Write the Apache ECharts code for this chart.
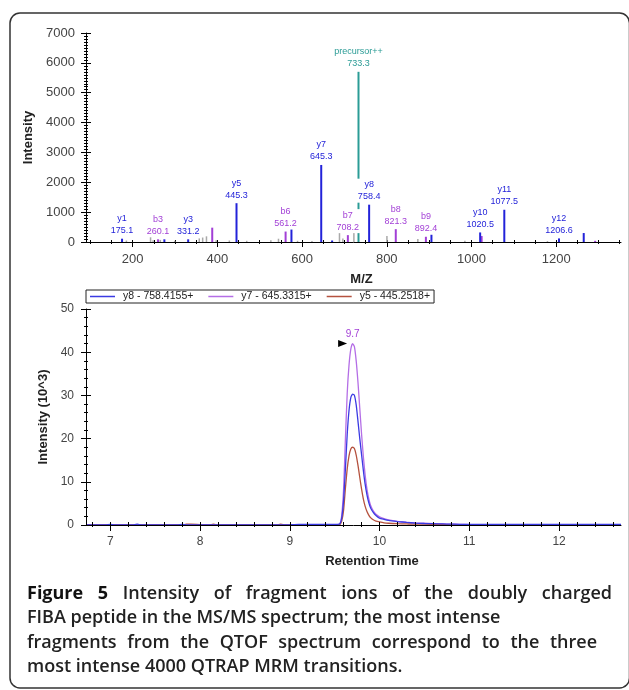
<!DOCTYPE html>
<html>
<head>
<meta charset="utf-8">
<title>Figure 5</title>
<script src="https://cdn.jsdelivr.net/npm/echarts@6/dist/echarts.min.js"></script>
<style>
html,body{margin:0;padding:0;background:#fff;}
#main{width:629px;height:690px;}
</style>
</head>
<body>
<div id="main"></div>
<script>
// MS/MS spectrum peaks: [m/z, intensity, ion label]
var yIons = [[175.1,110,'y1'],[275.0,90,''],[331.2,90,'y3'],[445.3,1300,'y5'],[575.0,500,''],[645.3,2580,'y7'],
	[671.0,50,''],[758.4,1250,'y8'],[905.5,330,''],[1020.5,320,'y10'],[1077.5,1080,'y11'],[1206.6,120,'y12'],[1265.0,300,'']];
var bIons = [[260.1,90,'b3'],[388.0,480,''],[561.2,350,'b6'],[708.2,230,'b7'],[821.3,430,'b8'],[892.4,175,'b9'],
	[1024.0,200,''],[1292.0,40,'']];
var precursorIons = [[733.3,5700,'precursor++']];
var otherPeaks = [[186,50],[243,180],[249,60],[266,70],[300,40],[358,120],[366,150],[375,190],[398,60],[429,50],
	[470,40],[527,60],[545,110],[590,40],[624,30],[689,370],[697,120],[723,400],[801,200],[874,100],[985,40],[1180,30]];
var mzLabels = [200,400,600,800,1000,1200];

// MRM chromatogram (intensity in 10^3)
var rt = [6.73,6.95,7.0,7.05,7.25,7.3,7.35,7.75,7.8,7.85,7.9,8.1,8.15,8.2,8.85,8.9,8.95,9.1,9.3,9.5,
	9.53,9.56,9.58,9.60,9.62,9.64,9.66,9.68,9.70,9.72,9.74,9.76,9.78,9.80,9.82,9.84,9.86,9.88,9.90,9.93,
	9.96,10.0,10.05,10.1,10.2,10.3,10.4,10.5,10.6,10.7,10.8,10.9,11.0,11.5,12.0,12.5,12.69];
var y8 = [0,0,0.15,0,0,0.2,0,0,0.15,0,0,0,0,0,0,0,0,0.15,0.15,0.15,
	0.15,0.3,1.8,5.8,13,21,26.5,29.5,30.3,30,27.8,24,20,16.3,12.6,9.4,7,5.2,4,2.9,
	2.2,1.6,1.3,1.05,0.8,0.6,0.45,0.35,0.3,0.25,0.2,0.15,0.15,0.12,0.12,0.12,0.12];
var y7 = [0,0,0,0,0,0,0,0,0,0,0,0,0,0,0,0,0,0,0,0,
	0,0.3,2.5,8.5,20,30.5,37,40.7,42,41.3,38,33,27,21,15.8,11.5,8.3,6.1,4.6,3.3,
	2.5,1.9,1.5,1.2,0.85,0.65,0.5,0.4,0.3,0.25,0.2,0.15,0.1,0,0,0,0];
var y5 = [0,0,0,0,0,0,0,0,0,0.2,0.2,0,0.2,0,0,0.2,0,0,0,0,
	0,0.1,1,3.5,8.5,13,16,17.6,18,17.7,16.2,13.8,11,8.3,6,4.3,3.1,2.3,1.7,1.2,
	0.9,0.7,0.5,0.4,0.3,0.25,0.2,0.2,0.15,0.1,0,0,0,0,0,0,0];
var rtLabels = [7,8,9,10,11,12];
var traceNames = ['y8 - 758.4155+','y7 - 645.3315+','y5 - 445.2518+'];

// caption lines: [word, bold]; justifyTo = right edge the line is spread to (0 = natural spacing)
var captionLines = [
	{words:[['Figure',1],['5',1],['Intensity',0],['of',0],['fragment',0],['ions',0],['of',0],['the',0],['doubly',0],['charged',0]], justifyTo:612},
	{words:[['FIBA',0],['peptide',0],['in',0],['the',0],['MS/MS',0],['spectrum;',0],['the',0],['most',0],['intense',0]], justifyTo:0},
	{words:[['fragments',0],['from',0],['the',0],['QTOF',0],['spectrum',0],['correspond',0],['to',0],['the',0],['three',0]], justifyTo:597},
	{words:[['most',0],['intense',0],['4000',0],['QTRAP',0],['MRM',0],['transitions.',0]], justifyTo:0}
];

var FONT = "'Liberation Sans', Arial, sans-serif";
var CAPFONT = "'Open Sans', 'Noto Sans', sans-serif";
var BLUE = '#2323d9', PURPLE = '#a23fd6', TEAL = '#2b9c96', GREY = '#a9a9a9';

function peakItems(list){
	return list.map(function(p){
		var item = {value:[p[0],p[1]], name:p[2] || ''};
		if(p[2]) item.label = {show:true};
		return item;
	});
}
function pairs(xs, ys){
	return xs.map(function(x,i){ return [x, ys[i]]; });
}
function stepTicks(from, to, step){
	var arr = [];
	for(var v = from; v <= to + 1e-9; v += step){ arr.push(Math.round(v*100)/100); }
	return arr;
}
var mzMinor = stepTicks(100, 1350, 50);
var rtMinor = stepTicks(6.8, 12.6, 0.2);

function stickSeries(name, list, color, width){
	return {
		name:name, type:'bar', xAxisIndex:0, yAxisIndex:0,
		barWidth:width, barGap:'-100%',
		itemStyle:{color:color},
		data:peakItems(list),
		label:{
			show:false, position:'top', distance:2,
			formatter:function(p){ return p.name + '\n' + p.value[0].toFixed(1); },
			color:color, fontSize:9, lineHeight:12, fontFamily:FONT,
			backgroundColor:'#fff', padding:[0,1]
		}
	};
}

// caption: words laid out on a line, spread to a right margin when asked
var measureCtx = document.createElement('canvas').getContext('2d');
function captionGraphics(){
	var out = [], left = 27, size = 18, top0 = 585, lineGap = 24.3;
	captionLines.forEach(function(line, li){
		var fonts = line.words.map(function(w){ return (w[1] ? 'bold ' : '600 ') + size + 'px ' + CAPFONT; });
		var widths = line.words.map(function(w, i){ measureCtx.font = fonts[i]; return measureCtx.measureText(w[0]).width; });
		measureCtx.font = '600 ' + size + 'px ' + CAPFONT;
		var space = measureCtx.measureText(' ').width;
		if(line.justifyTo){
			var total = widths.reduce(function(a,b){ return a+b; }, 0);
			space = (line.justifyTo - left - total) / (line.words.length - 1);
		}
		var x = left;
		line.words.forEach(function(w, i){
			out.push({type:'text', x:x, y:top0 + li*lineGap, silent:true,
				style:{text:w[0], font:fonts[i], fill:w[1] ? '#111' : '#222', verticalAlign:'top', align:'left'}});
			x += widths[i] + space;
		});
	});
	return out;
}

var axisLine = {show:true, onZero:false, lineStyle:{color:'#000', width:1}};
var hidden = {show:false};
var plainNum = function(v){ return String(v); };

var myChart = echarts.init(document.getElementById('main'));
var peakIdx = y7.indexOf(Math.max.apply(null, y7));

var option = {
	backgroundColor:'#fff',
	animation:false,
	textStyle:{fontFamily:FONT},
	grid:[
		{left:86, right:8, top:33, bottom:448},
		{left:86, right:8, top:309, bottom:165}
	],
	legend:{
		data:traceNames, left:86, top:290, orient:'horizontal',
		icon:'rect', itemWidth:25, itemHeight:1.5, itemGap:15,
		borderColor:'#222', borderWidth:1, borderRadius:0, padding:[1,4],
		textStyle:{fontFamily:FONT, fontSize:10.5, color:'#222', padding:[0,0,0,3]}
	},
	xAxis:[
		// top spectrum
		{gridIndex:0, type:'value', position:'bottom', min:90, max:1353, z:5,
			axisLine:axisLine,
			axisTick:{show:true, customValues:mzLabels, length:5, lineStyle:{color:'#000'}},
			axisLabel:{customValues:mzLabels, formatter:plainNum, margin:11, fontSize:13, color:'#444', fontFamily:FONT},
			splitLine:hidden,
			name:'M/Z', nameLocation:'middle', nameGap:31,
			nameTextStyle:{fontWeight:'bold', fontSize:13, color:'#222', fontFamily:FONT, padding:[0,0,0,16]}},
		{gridIndex:0, type:'value', position:'bottom', min:90, max:1353,
			axisLine:{show:false, onZero:false},
			axisTick:{show:true, customValues:mzMinor, length:2, inside:true, lineStyle:{color:'#000'}},
			axisLabel:hidden, splitLine:hidden},
		{gridIndex:0, type:'value', position:'bottom', min:90, max:1353,
			axisLine:{show:false, onZero:false},
			axisTick:{show:true, customValues:mzMinor, length:2, lineStyle:{color:'#000'}},
			axisLabel:hidden, splitLine:hidden},
		// bottom chromatogram
		{gridIndex:1, type:'value', position:'bottom', min:6.73, max:12.69, z:10,
			axisLine:axisLine,
			axisTick:{show:true, customValues:rtLabels, length:6, lineStyle:{color:'#000'}},
			axisLabel:{customValues:rtLabels, formatter:plainNum, margin:11, fontSize:12, color:'#444', fontFamily:FONT},
			splitLine:hidden,
			name:'Retention Time', nameLocation:'middle', nameGap:30,
			nameTextStyle:{fontWeight:'bold', fontSize:13, color:'#222', fontFamily:FONT, padding:[0,0,0,37]}},
		{gridIndex:1, type:'value', position:'bottom', min:6.73, max:12.69, z:10,
			axisLine:{show:false, onZero:false},
			axisTick:{show:true, customValues:rtLabels.concat(rtMinor), length:3, inside:true, lineStyle:{color:'#000'}},
			axisLabel:hidden, splitLine:hidden},
		{gridIndex:1, type:'value', position:'bottom', min:6.73, max:12.69, z:10,
			axisLine:{show:false, onZero:false},
			axisTick:{show:true, customValues:rtMinor, length:2, lineStyle:{color:'#000'}},
			axisLabel:hidden, splitLine:hidden}
	],
	yAxis:[
		{gridIndex:0, type:'value', position:'left', min:0, max:7000, interval:1000, z:5,
			axisLine:axisLine,
			axisTick:{show:true, length:5, lineStyle:{color:'#000'}},
			minorTick:{show:true, splitNumber:10, length:2, lineStyle:{color:'#000'}},
			axisLabel:{formatter:plainNum, margin:11, fontSize:13, color:'#444', fontFamily:FONT},
			splitLine:hidden,
			name:'Intensity', nameLocation:'middle', nameGap:46,
			nameTextStyle:{fontWeight:'bold', fontSize:13, color:'#222', fontFamily:FONT}},
		{gridIndex:0, type:'value', position:'left', min:0, max:7000, interval:1000,
			axisLine:{show:false, onZero:false},
			axisTick:{show:true, length:5, inside:true, lineStyle:{color:'#000'}},
			minorTick:{show:true, splitNumber:10, length:2, lineStyle:{color:'#000'}},
			axisLabel:hidden, splitLine:hidden},
		{gridIndex:1, type:'value', position:'left', min:0, max:50, interval:10, z:10,
			axisLine:axisLine,
			axisTick:{show:true, length:5, lineStyle:{color:'#000'}},
			minorTick:{show:true, splitNumber:5, length:2, lineStyle:{color:'#000'}},
			axisLabel:{formatter:plainNum, margin:12, fontSize:12, color:'#444', fontFamily:FONT},
			splitLine:hidden,
			name:'Intensity (10^3)', nameLocation:'middle', nameGap:33,
			nameTextStyle:{fontWeight:'bold', fontSize:13, color:'#222', fontFamily:FONT}},
		{gridIndex:1, type:'value', position:'left', min:0, max:50, interval:10,
			axisLine:{show:false, onZero:false},
			axisTick:{show:true, length:5, inside:true, lineStyle:{color:'#000'}},
			minorTick:{show:true, splitNumber:5, length:2, lineStyle:{color:'#000'}},
			axisLabel:hidden, splitLine:hidden}
	],
	series:[
		stickSeries('other', otherPeaks.map(function(p){ return [p[0],p[1],'']; }), GREY, 1.5),
		stickSeries('b ions', bIons, PURPLE, 2),
		stickSeries('y ions', yIons, BLUE, 2),
		stickSeries('precursor', precursorIons, TEAL, 2),
		{name:traceNames[1], type:'line', xAxisIndex:3, yAxisIndex:2, data:pairs(rt, y7),
			showSymbol:false, smooth:0.2, lineStyle:{color:'#b46ee6', width:1.3}, itemStyle:{color:'#b46ee6'}, z:2,
			markPoint:{
				silent:true,
				data:[
					{coord:[rt[peakIdx], y7[peakIdx]], symbol:'triangle', symbolRotate:-90, symbolSize:[7,9],
						symbolOffset:[-10,0], itemStyle:{color:'#000'}, label:{show:false}},
					{coord:[rt[peakIdx], y7[peakIdx]], symbol:'circle', symbolSize:1, itemStyle:{color:'rgba(0,0,0,0)'},
						label:{show:true, position:'top', distance:4, formatter:rt[peakIdx].toFixed(1),
							color:'#a23fd6', fontSize:10, fontFamily:FONT}}
				]
			}},
		{name:traceNames[2], type:'line', xAxisIndex:3, yAxisIndex:2, data:pairs(rt, y5),
			showSymbol:false, smooth:0.2, lineStyle:{color:'#b5523f', width:1.3}, itemStyle:{color:'#b5523f'}, z:3},
		{name:traceNames[0], type:'line', xAxisIndex:3, yAxisIndex:2, data:pairs(rt, y8),
			showSymbol:false, smooth:0.2, lineStyle:{color:'#3b3be3', width:1.3}, itemStyle:{color:'#3b3be3'}, z:4}
	],
	graphic:[
		{type:'rect', silent:true, z:-10, shape:{x:10, y:13, width:619.5, height:675, r:10},
			style:{fill:'none', stroke:'#333', lineWidth:1.5}}
	].concat(captionGraphics())
};
myChart.setOption(option);
</script>
</body>
</html>
